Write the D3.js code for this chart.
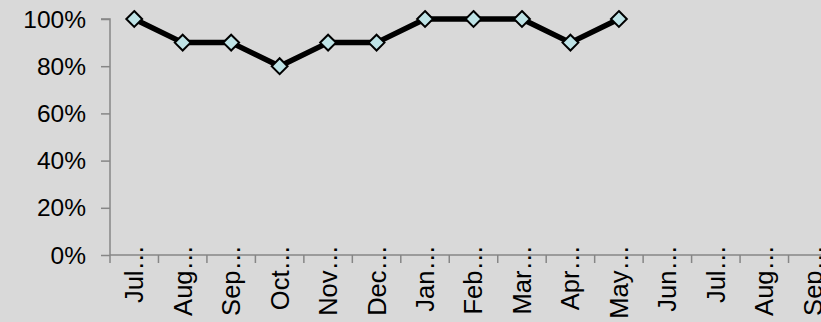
<!DOCTYPE html>
<html>
<head>
<meta charset="utf-8">
<script src="https://cdn.jsdelivr.net/npm/d3@7"></script>
<style>
  html, body { margin: 0; padding: 0; background: #d9d9d9; }
  svg { display: block; }
</style>
</head>
<body>
<svg id="chart" width="821" height="322"></svg>
<script>
// Monthly rate, July through the following September
const months = ["Jul…", "Aug…", "Sep…", "Oct…", "Nov…", "Dec…", "Jan…", "Feb…", "Mar…", "Apr…", "May…", "Jun…", "Jul…", "Aug…", "Sep…"];
const rates = [1.0, 0.9, 0.9, 0.8, 0.9, 0.9, 1.0, 1.0, 1.0, 0.9, 1.0, null, null, null, null];
const yTicks = [0, 0.2, 0.4, 0.6, 0.8, 1.0];

const svg = d3.select("#chart");
const W = 821, H = 322;
const plotLeft = 110, plotRight = 837, plotTop = 19, plotBottom = 255;

svg.append("rect").attr("width", W).attr("height", H).attr("fill", "#d9d9d9");

const x = d3.scaleBand()
  .domain(d3.range(months.length))
  .range([plotLeft, plotRight])
  .paddingInner(0).paddingOuter(0);

const y = d3.scaleLinear()
  .domain([0, 1])
  .range([plotBottom, plotTop]);

const axisColor = "#868686";
const font = "'Liberation Sans', Arial, sans-serif";

// Y axis
const yAxis = d3.axisLeft(y)
  .tickValues(yTicks)
  .tickFormat(d3.format(".0%"))
  .tickSize(9)
  .tickPadding(15);
const gy = svg.append("g").attr("transform", `translate(${plotLeft},0)`).call(yAxis);
gy.select(".domain").attr("stroke", axisColor).attr("stroke-width", 1.5)
  .attr("d", `M-9,${y(1)}H0V${y(0)}`);
gy.selectAll(".tick line").attr("stroke", axisColor).attr("stroke-width", 1.5);
gy.selectAll(".tick text").attr("fill", "#000").attr("dy", "0.33em")
  .style("font-family", font).style("font-size", "24.5px");

// X axis: boundary ticks between months, labels at month centres
const gx = svg.append("g").attr("transform", `translate(0,${y(0)})`);
gx.append("line")
  .attr("x1", plotLeft).attr("x2", plotRight)
  .attr("stroke", axisColor).attr("stroke-width", 1.5);
gx.selectAll("line.tick")
  .data(d3.range(months.length + 1))
  .join("line")
  .attr("class", "tick")
  .attr("x1", i => i < months.length ? x(i) : plotRight)
  .attr("x2", i => i < months.length ? x(i) : plotRight)
  .attr("y1", 0).attr("y2", 8)
  .attr("stroke", axisColor).attr("stroke-width", 1.5);
gx.selectAll("text")
  .data(months)
  .join("text")
  .attr("transform", (d, i) => `translate(${x(i) + x.bandwidth() / 2},-10) rotate(-90)`)
  .attr("text-anchor", "end")
  .attr("dy", "0.35em")
  .style("font-family", font)
  .style("font-size", "25.5px")
  .attr("fill", "#000")
  .text(d => d);

// Series line and markers
const pts = rates.map((v, i) => ({ i, v })).filter(d => d.v != null);
const line = d3.line()
  .x(d => x(d.i) + x.bandwidth() / 2)
  .y(d => y(d.v));
svg.append("path")
  .datum(pts)
  .attr("d", line)
  .attr("fill", "none")
  .attr("stroke", "#000")
  .attr("stroke-width", 5.5)
  .attr("stroke-linejoin", "round");

const diamond = d3.symbol().type(d3.symbolDiamond2).size(160);
svg.selectAll("path.marker")
  .data(pts)
  .join("path")
  .attr("class", "marker")
  .attr("transform", d => `translate(${x(d.i) + x.bandwidth() / 2},${y(d.v)})`)
  .attr("d", diamond)
  .attr("fill", "#bfe3e6")
  .attr("stroke", "#000")
  .attr("stroke-width", 2);
</script>
</body>
</html>
